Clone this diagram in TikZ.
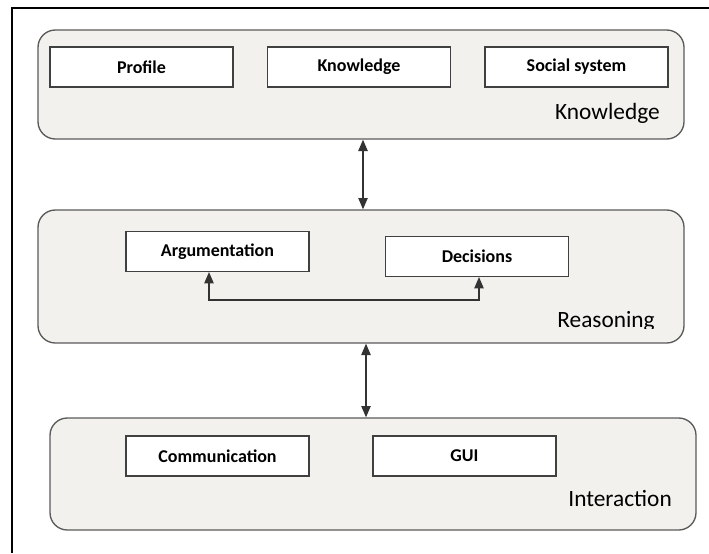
\documentclass[tikz,border=0pt]{standalone}
\usepackage{fontspec}
\setmainfont{Carlito}
\usetikzlibrary{arrows.meta,fit}
\definecolor{panelfill}{HTML}{F2F1ED}
\definecolor{panelline}{HTML}{5A5A5A}
\definecolor{boxline}{HTML}{404040}
\tikzset{
  x=0.75pt, y=-0.75pt,
  panel/.style={draw=panelline, line width=1pt, fill=panelfill, rounded corners=13pt, inner sep=0pt},
  box/.style={draw=boxline, line width=0.8pt, fill=white, minimum width=137.25pt, minimum height=30pt, inner sep=0pt, font=\fontsize{13.5}{15}\selectfont\bfseries},
  layer/.style={font=\fontsize{17.5}{19}\selectfont, inner sep=0pt},
  conn/.style={draw=black!80, line width=1pt, {Triangle[length=8.5pt,width=7pt]}-{Triangle[length=8.5pt,width=7pt]}},
  frame/.style={draw=black, line width=1.2pt}
}
\begin{document}
\begin{tikzpicture}
\useasboundingbox (0,0) rectangle (709,553);
\coordinate (fa) at (12,553);
\coordinate (fb) at (12,8);
\coordinate (fc) at (709,8);
\draw[frame] (fa) -- (fb) -- (fc);

% panels
\coordinate (k1) at (38,30); \coordinate (k2) at (684,139);
\node[panel, fit=(k1)(k2)] (kp) {};
\coordinate (r1) at (38,210); \coordinate (r2) at (684,343);
\node[panel, fit=(r1)(r2)] (rp) {};
\coordinate (i1) at (50,418); \coordinate (i2) at (696,530);
\node[panel, fit=(i1)(i2)] (ip) {};

% boxes
\node[box] (profile) at (141.5,67) {Profile};
\node[box] (know) at (359,67) {Knowledge};
\node[box] (social) at (576.5,67) {Social system};
\node[box] (arg) at (217.5,251.5) {Argumentation};
\node[box] (dec) at (477,256.5) {Decisions};
\node[box] (comm) at (217.5,456) {Communication};
\node[box] (gui) at (464.5,456) {GUI};

% layer labels
\node[layer, anchor=base east] (klab) at (660,119) {Knowledge};
\begin{scope}
\clip (540,300) rectangle (670,328.5);
\node[layer, anchor=base east] (rlab) at (655,327.5) {Reasoning};
\end{scope}
\node[layer, anchor=base east] (ilab) at (672,506) {Interaction};

% connectors
\coordinate (a1) at (363,0);
\draw[conn] (kp.south -| a1) -- (rp.north -| a1);
\coordinate (a2) at (366,0);
\draw[conn] (rp.south -| a2) -- (ip.north -| a2);
\coordinate (ra) at (209,300);
\coordinate (rb) at (479,300);
\draw[conn] (arg.south -| ra) -- (ra) -- (rb) -- (dec.south -| rb);
\end{tikzpicture}
\end{document}
